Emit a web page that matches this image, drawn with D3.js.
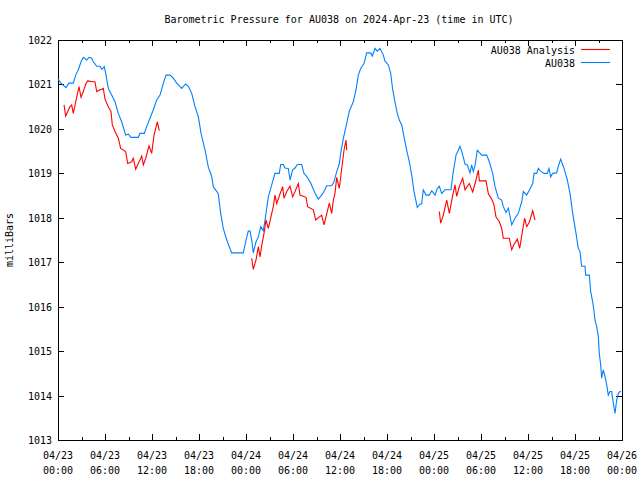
<!DOCTYPE html>
<html><head><meta charset="utf-8">
<script src="https://cdn.jsdelivr.net/npm/d3@7"></script>
<style>body{margin:0;background:#fff}svg{display:block}text{font-family:"DejaVu Sans Mono",monospace;font-size:10px;fill:#000}</style>
</head><body><div id="chart"></div>
<script>
const title = "Barometric Pressure for AU038 on 2024-Apr-23 (time in UTC)";
const yLabel = "milliBars";
const seriesNames = ["AU038 Analysis", "AU038"];
const yTicks = [1013,1014,1015,1016,1017,1018,1019,1020,1021,1022];
const xTickHours = [0,6,12,18,24,30,36,42,48,54,60,66,72];
const startTime = Date.UTC(2024,3,23,0,0);
// hours since 2024-04-23 00:00 UTC
const blueHours = [0.0,0.38,1.02,1.40,1.95,2.26,2.59,2.94,3.23,3.66,3.96,4.30,4.51,4.94,5.36,5.58,5.91,6.09,6.42,6.85,7.28,7.70,8.13,8.64,8.98,9.32,10.25,10.47,11.02,11.32,11.74,12.17,12.60,13.02,13.45,13.79,14.30,14.72,15.15,15.79,16.30,16.64,17.07,17.49,17.92,18.26,18.77,19.19,19.62,19.83,20.46,20.77,21.10,21.54,22.17,23.66,24.00,24.29,24.51,24.73,24.93,25.28,25.57,25.88,26.21,26.43,26.85,27.28,27.70,28.25,28.43,28.76,28.98,29.40,29.62,29.96,30.26,30.55,31.11,31.40,31.83,32.26,32.81,33.23,33.66,33.96,34.30,34.94,35.23,35.58,35.91,36.09,36.42,36.86,37.19,37.70,38.04,38.34,38.64,39.06,39.41,39.92,40.12,40.47,40.76,41.11,41.53,41.74,42.17,42.47,42.73,43.02,43.31,43.57,43.88,44.17,44.51,44.85,45.15,45.45,45.87,46.21,46.43,46.63,46.98,47.40,47.71,48.13,48.42,48.68,48.98,49.40,50.17,50.46,50.81,51.10,51.32,51.61,51.96,52.25,52.60,52.81,53.02,53.23,53.53,54.09,54.73,55.06,55.49,55.79,56.21,56.64,56.85,57.19,57.49,57.92,58.34,58.76,59.20,59.40,59.83,60.17,60.60,60.77,61.11,61.32,61.62,62.04,62.46,62.68,62.90,63.15,63.66,63.87,64.17,64.60,65.02,65.36,65.71,66.13,66.42,66.64,66.85,67.28,67.36,67.83,68.00,68.26,68.43,68.55,68.77,68.98,69.10,69.28,69.40,69.61,69.83,70.05,70.25,70.47,70.68,70.89,71.11,71.32,71.53,71.74,71.87];
const blueValues = [1021.12,1021.03,1020.93,1021.03,1021.03,1021.21,1021.33,1021.51,1021.61,1021.55,1021.61,1021.59,1021.51,1021.41,1021.41,1021.34,1021.40,1021.25,1020.91,1020.76,1020.61,1020.35,1020.16,1019.86,1019.88,1019.81,1019.81,1019.90,1019.90,1020.05,1020.24,1020.43,1020.65,1020.76,1021.03,1021.21,1021.21,1021.14,1021.03,1020.91,1021.01,1020.96,1020.80,1020.50,1020.27,1019.90,1019.52,1019.14,1018.93,1018.70,1018.54,1018.10,1017.76,1017.50,1017.21,1017.21,1017.50,1017.70,1017.70,1017.50,1017.21,1017.46,1017.57,1017.80,1017.71,1017.95,1018.47,1018.74,1019.00,1019.00,1019.20,1019.20,1019.12,1019.11,1018.85,1019.08,1019.12,1019.20,1019.20,1019.00,1018.91,1018.78,1018.55,1018.42,1018.51,1018.59,1018.72,1018.72,1018.81,1019.04,1019.21,1019.45,1019.78,1020.13,1020.40,1020.61,1020.88,1021.21,1021.36,1021.47,1021.71,1021.71,1021.64,1021.81,1021.75,1021.81,1021.66,1021.53,1021.44,1021.25,1020.88,1020.61,1020.35,1020.20,1020.09,1019.82,1019.52,1019.26,1018.96,1018.59,1018.23,1018.31,1018.31,1018.63,1018.51,1018.51,1018.61,1018.51,1018.66,1018.71,1018.55,1018.63,1018.63,1019.04,1019.41,1019.52,1019.61,1019.45,1019.21,1019.19,1019.01,1019.19,1019.04,1019.17,1019.52,1019.41,1019.41,1019.26,1019.00,1018.70,1018.44,1018.40,1018.25,1018.12,1018.22,1017.84,1017.99,1018.10,1018.36,1018.59,1018.51,1018.62,1018.77,1019.00,1019.00,1019.11,1019.05,1019.00,1019.00,1019.11,1018.92,1019.00,1019.01,1019.16,1019.32,1019.11,1018.85,1018.55,1018.10,1017.65,1017.31,1017.24,1016.91,1016.91,1016.71,1016.71,1016.34,1016.11,1015.89,1015.70,1015.55,1015.32,1014.95,1014.69,1014.39,1014.58,1014.43,1014.24,1014.01,1014.09,1014.09,1013.83,1013.60,1013.90,1014.05,1014.09,1014.09];
// analysis series: null marks a gap
const redHours = [0.77,0.98,1.24,1.53,1.75,1.95,2.26,2.68,2.94,3.23,3.54,3.79,4.51,4.72,4.94,5.36,5.58,5.78,6.00,6.42,6.77,6.93,7.28,7.70,8.00,8.64,8.90,9.41,9.61,9.92,10.25,10.69,10.89,11.20,11.62,11.96,12.26,12.68,12.93,null,
 24.73,24.93,25.28,25.57,25.79,26.00,26.30,26.55,26.85,27.15,27.48,27.70,27.92,28.25,28.68,28.85,29.20,29.62,29.96,30.26,30.68,30.89,31.66,31.87,32.59,32.90,33.66,33.96,34.30,34.64,34.94,35.15,35.36,35.58,35.91,36.22,36.51,36.77,36.86,null,
 48.68,48.85,49.19,49.62,49.96,50.39,50.68,50.90,51.23,51.66,51.96,52.51,52.94,53.36,53.66,53.79,54.64,54.94,55.36,55.66,55.91,56.34,56.64,56.85,57.61,57.92,58.21,58.64,58.94,59.28,59.57,59.83,60.17,60.60,60.89];
const redValues = [1020.54,1020.29,1020.39,1020.50,1020.54,1020.35,1020.61,1020.95,1020.71,1020.84,1021.01,1021.08,1021.06,1021.06,1020.84,1020.88,1020.89,1020.91,1020.67,1020.50,1020.39,1020.09,1019.94,1019.79,1019.56,1019.49,1019.22,1019.26,1019.34,1019.09,1019.22,1019.39,1019.19,1019.34,1019.62,1019.45,1019.86,1020.16,1019.96,null,
 1017.09,1016.84,1017.05,1017.35,1017.12,1017.37,1017.65,1017.95,1017.76,1017.99,1018.25,1018.51,1018.32,1018.49,1018.70,1018.44,1018.59,1018.71,1018.47,1018.59,1018.77,1018.51,1018.46,1018.25,1018.18,1017.95,1018.06,1017.84,1018.09,1018.33,1018.10,1018.40,1018.55,1018.91,1018.66,1019.11,1019.52,1019.75,1019.52,null,
 1018.14,1017.88,1018.06,1018.40,1018.10,1018.51,1018.74,1018.48,1018.70,1018.89,1018.63,1018.77,1018.58,1018.85,1019.07,1018.83,1018.83,1018.54,1018.42,1018.29,1018.02,1017.91,1017.76,1017.54,1017.54,1017.28,1017.40,1017.52,1017.31,1017.69,1017.99,1017.80,1017.90,1018.16,1017.95];
const colors = ["#ff0000", "#0080ff"];

const W = 640, H = 480;
const m = {left: 58, right: 18, top: 40, bottom: 40};
const toDate = h => new Date(startTime + h * 3600000);
const x = d3.scaleUtc().domain([toDate(0), toDate(72)]).range([m.left, W - m.right]);
const y = d3.scaleLinear().domain([1013, 1022]).range([H - m.bottom, m.top]);

const svg = d3.select("#chart").append("svg").attr("width", W).attr("height", H);

// axes with inward ticks
const fmtD = d3.utcFormat("%m/%d"), fmtT = d3.utcFormat("%H:%M");
const majors = xTickHours.map(toDate);
const minors = d3.range(3, 72, 6).map(toDate);
const gx = svg.append("g").attr("transform", `translate(0,${H - m.bottom})`)
  .call(d3.axisBottom(x).tickValues(majors).tickSize(-6).tickPadding(0).tickFormat(""));
const gxm = svg.append("g").attr("transform", `translate(0,${H - m.bottom})`)
  .call(d3.axisBottom(x).tickValues(minors).tickSize(-3).tickFormat(""));
const gxt = svg.append("g").attr("transform", `translate(0,${m.top})`)
  .call(d3.axisTop(x).tickValues(majors).tickSize(-6).tickFormat(""));
const gxtm = svg.append("g").attr("transform", `translate(0,${m.top})`)
  .call(d3.axisTop(x).tickValues(minors).tickSize(-3).tickFormat(""));
const gy = svg.append("g").attr("transform", `translate(${m.left},0)`)
  .call(d3.axisLeft(y).tickValues(yTicks).tickSize(-6).tickPadding(6).tickFormat(d3.format("d")));
const gyr = svg.append("g").attr("transform", `translate(${W - m.right},0)`)
  .call(d3.axisRight(y).tickValues(yTicks).tickSize(-6).tickFormat(""));
[gx, gxm, gxt, gxtm, gy, gyr].forEach(g => {
  g.select(".domain").remove();
  g.selectAll("line").attr("stroke", "#000").attr("shape-rendering", "crispEdges");
});
gy.selectAll("text").attr("x", -6).attr("dy", "0.35em").style("font-family", "DejaVu Sans Mono").style("font-size", "10px");

// x labels, two lines
const xl = svg.append("g");
majors.forEach(d => {
  const t = xl.append("text").attr("x", x(d)).attr("y", H - m.bottom + 19).attr("text-anchor", "middle");
  t.append("tspan").attr("x", x(d)).text(fmtD(d));
  t.append("tspan").attr("x", x(d)).attr("dy", 15).text(fmtT(d));
});

// frame
svg.append("rect").attr("x", m.left + 0.5).attr("y", m.top + 0.5)
  .attr("width", W - m.left - m.right).attr("height", H - m.top - m.bottom)
  .attr("fill", "none").attr("stroke", "#000").attr("shape-rendering", "crispEdges");

// series
const blueData = blueHours.map((h, i) => ({t: toDate(h), v: blueValues[i]}));
const redData = redHours.map((h, i) => ({t: h === null ? null : toDate(h), v: redValues[i]}));
const line = d3.line().defined(d => d.t !== null && d.v !== null).x(d => x(d.t)).y(d => y(d.v));
svg.append("path").datum(blueData).attr("d", line).attr("fill", "none").attr("stroke", colors[1]).attr("stroke-width", 1.1);
svg.append("path").datum(redData).attr("d", line).attr("fill", "none").attr("stroke", colors[0]).attr("stroke-width", 1.1);

// title
svg.append("text").attr("x", 339).attr("y", 23).attr("text-anchor", "middle").text(title);
// y label
svg.append("text").attr("transform", `translate(13,${(m.top + H - m.bottom) / 2}) rotate(-90)`).attr("text-anchor", "middle").text(yLabel);

// legend
const lg = svg.append("g");
seriesNames.forEach((n, i) => {
  const yy = 50 + i * 13;
  lg.append("text").attr("x", 575).attr("y", yy).attr("dy", "0.35em").attr("text-anchor", "end").text(n);
  lg.append("line").attr("x1", 581).attr("x2", 610).attr("y1", yy - 0.5).attr("y2", yy - 0.5)
    .attr("stroke", colors[i]).attr("stroke-width", 1.1);
});
</script></body></html>
